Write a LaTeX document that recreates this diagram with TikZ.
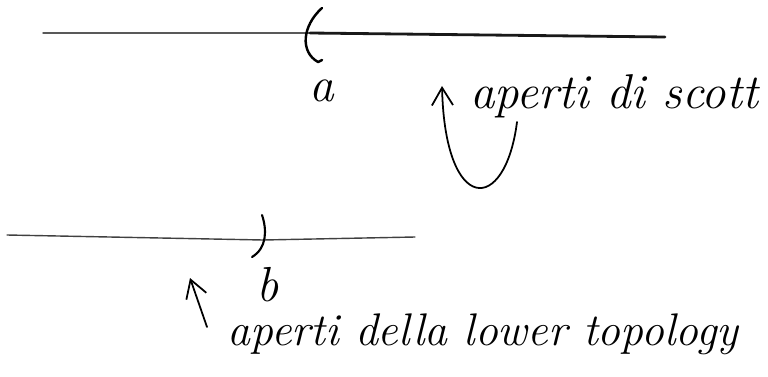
\documentclass[tikz,border=0pt]{standalone}
\usetikzlibrary{arrows.meta}

\begin{document}
\begin{tikzpicture}[x=0.01cm, y=-0.01cm, >={Straight Barb[length=5pt,width=6pt]},
    font=\itshape, line cap=round, line join=round]
  \useasboundingbox (0,0) rectangle (768,376);

  % upper line, point a
  \coordinate (A0) at (43,33);
  \coordinate (A) at (310,33);
  \coordinate (A1) at (665,37);
  \draw[black!65, line width=0.4pt] (A0) -- (A);
  \draw[black!90, line width=0.8pt] (A) -- (A1);
  \draw[line width=0.7pt] (322,8) .. controls (302,26) and (300,52) .. (318,62)
    -- (322,60);
  \node (a) at (322,91) {\fontsize{14}{16}\selectfont a};

  % lower line, point b
  \coordinate (B0) at (7,235);
  \coordinate (B) at (263,240);
  \coordinate (B1) at (415,237);
  \draw[black!75, line width=0.4pt] (B0) -- (B) -- (B1);
  \draw[line width=0.6pt] (262,215) .. controls (267,230) and (267,248) .. (252,257);
  \node (b) at (268,285) {\fontsize{14}{16}\selectfont b};

  % labels and arrows
  \node[anchor=base] (scott) at (614,108) {\fontsize{13.9}{16}\selectfont aperti di scott};
  \coordinate (U0) at (517,122);
  \draw[->, line width=0.5pt] (U0) .. controls (505,215) and (445,215) .. (442,86);

  \node[anchor=base] (lower) at (483,345) {\fontsize{13}{16}\selectfont aperti della lower topology};
  \coordinate (L0) at (207,327);
  \coordinate (L1) at (190,278);
  \draw[->, line width=0.5pt] (L0) -- (L1);
\end{tikzpicture}
\end{document}
